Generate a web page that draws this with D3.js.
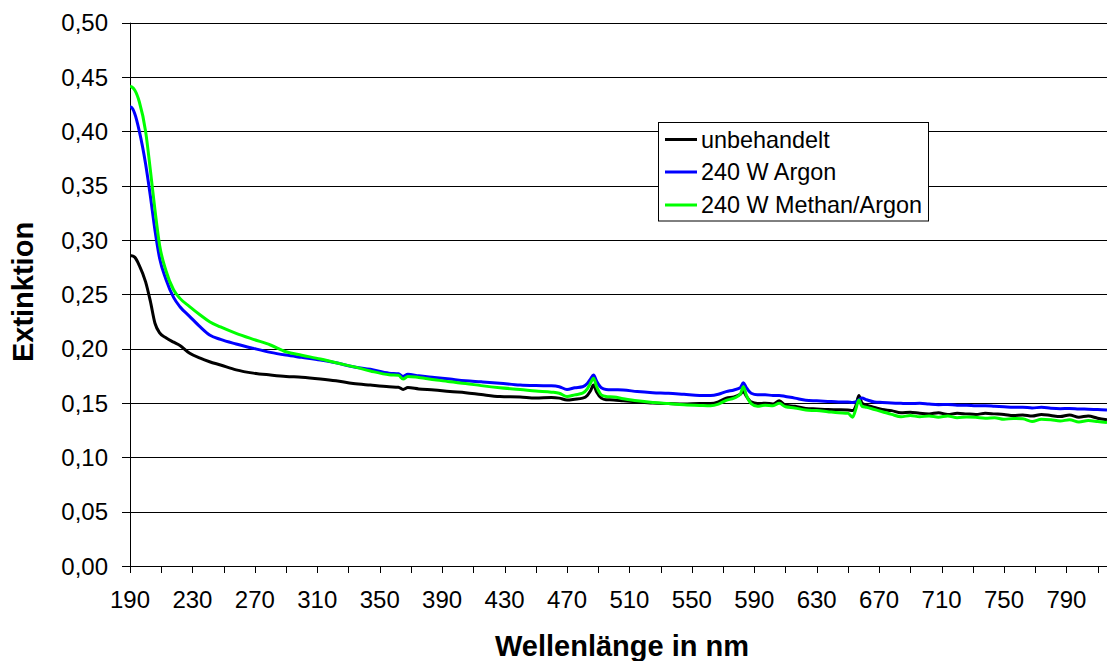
<!DOCTYPE html>
<html>
<head>
<meta charset="utf-8">
<script src="https://cdn.jsdelivr.net/npm/d3@7"></script>
<style>
  html, body { margin: 0; padding: 0; background: #fff; }
  svg { display: block; font-family: Arial, "Liberation Sans", sans-serif; }
</style>
</head>
<body>
<svg id="chart" width="1107" height="661"></svg>
<script>
// ---- data ----
const wavelengths = [190,191,193,196,200,203,206,209,213,218,222,228,235,241,248,258,269,280,290,300,312,322,333,344,356,362,365,368,375,385,395,405,415,427,440,450,460,465,470,475,480,483,485,487,489,492,495,500,506,515,525,535,545,555,562,567,572,577,581,583,585,588,592,597,602,606,610,616,623,630,637,644,650,653,655,657,659,662,667,672,678,684,690,696,702,708,714,720,726,732,738,744,750,756,762,768,774,780,786,792,798,804,810,816];

const unbehandelt = [0.2856,0.2856,0.2842,0.2765,0.2615,0.2440,0.2234,0.2145,0.2100,0.2060,0.2030,0.1960,0.1912,0.1880,0.1850,0.1805,0.1775,0.1758,0.1745,0.1738,0.1722,0.1705,0.1680,0.1665,0.1650,0.1645,0.1625,0.1642,0.1630,0.1620,0.1605,0.1595,0.1578,0.1560,0.1555,0.1545,0.1550,0.1545,0.1528,0.1535,0.1545,0.1570,0.1610,0.1665,0.1600,0.1545,0.1530,0.1528,0.1520,0.1510,0.1500,0.1495,0.1490,0.1496,0.1495,0.1510,0.1545,0.1555,0.1580,0.1605,0.1560,0.1510,0.1495,0.1498,0.1492,0.1520,0.1480,0.1470,0.1450,0.1445,0.1440,0.1438,0.1435,0.1430,0.1470,0.1570,0.1500,0.1480,0.1460,0.1440,0.1430,0.1410,0.1415,0.1405,0.1400,0.1410,0.1395,0.1405,0.1400,0.1395,0.1405,0.1400,0.1395,0.1385,0.1390,0.1380,0.1395,0.1385,0.1375,0.1390,0.1370,0.1380,0.1360,0.1345];

const argon = [0.4226,0.4220,0.4165,0.4000,0.3700,0.3410,0.3090,0.2830,0.2640,0.2470,0.2386,0.2300,0.2200,0.2126,0.2085,0.2043,0.2003,0.1966,0.1941,0.1920,0.1895,0.1870,0.1834,0.1810,0.1775,0.1770,0.1745,0.1765,0.1750,0.1735,0.1720,0.1705,0.1695,0.1682,0.1665,0.1660,0.1658,0.1650,0.1625,0.1640,0.1650,0.1680,0.1720,0.1757,0.1700,0.1640,0.1625,0.1622,0.1620,0.1605,0.1595,0.1590,0.1580,0.1570,0.1568,0.1580,0.1605,0.1620,0.1640,0.1686,0.1640,0.1590,0.1575,0.1575,0.1570,0.1570,0.1560,0.1545,0.1525,0.1520,0.1515,0.1510,0.1510,0.1505,0.1510,0.1530,0.1545,0.1530,0.1510,0.1505,0.1500,0.1497,0.1495,0.1497,0.1490,0.1485,0.1487,0.1480,0.1480,0.1475,0.1475,0.1470,0.1465,0.1460,0.1462,0.1455,0.1460,0.1452,0.1448,0.1450,0.1445,0.1443,0.1440,0.1435];

const methanArgon = [0.4416,0.4410,0.4380,0.4270,0.4000,0.3650,0.3276,0.2950,0.2720,0.2540,0.2463,0.2390,0.2310,0.2248,0.2200,0.2141,0.2086,0.2034,0.1972,0.1940,0.1905,0.1870,0.1835,0.1795,0.1760,0.1755,0.1720,0.1745,0.1735,0.1715,0.1695,0.1680,0.1660,0.1640,0.1625,0.1610,0.1600,0.1590,0.1560,0.1575,0.1590,0.1630,0.1680,0.1727,0.1650,0.1575,0.1560,0.1555,0.1540,0.1520,0.1505,0.1495,0.1485,0.1478,0.1474,0.1490,0.1525,0.1545,0.1580,0.1650,0.1570,0.1495,0.1470,0.1480,0.1475,0.1497,0.1465,0.1455,0.1435,0.1430,0.1420,0.1410,0.1405,0.1370,0.1440,0.1527,0.1470,0.1460,0.1440,0.1420,0.1395,0.1374,0.1385,0.1374,0.1380,0.1370,0.1380,0.1365,0.1372,0.1368,0.1360,0.1365,0.1350,0.1358,0.1355,0.1330,0.1350,0.1345,0.1335,0.1345,0.1325,0.1338,0.1330,0.1320];

const seriesNames = ["unbehandelt", "240 W Argon", "240 W Methan/Argon"];
const seriesColors = ["#000000", "#0000ff", "#00ff00"];
const yTickValues = [0,0.05,0.10,0.15,0.20,0.25,0.30,0.35,0.40,0.45,0.50];
const xTickValues = d3.range(190, 811, 20);
const xLabelValues = d3.range(190, 791, 40);
const xTitle = "Wellenlänge in nm";
const yTitle = "Extinktion";

(function () {
  const svg = d3.select("#chart");
  const mLeft = 130, mRight = 1107, mTop = 22.7, mBottom = 566;
  const x = d3.scaleLinear().domain([190, 816]).range([mLeft, mRight]);
  const y = d3.scaleLinear().domain([0, 0.5]).range([mBottom, mTop]);
  const fmt = v => d3.format(".2f")(v).replace(".", ",");

  // gridlines
  svg.append("g").selectAll("line").data(yTickValues.filter(v => v > 0)).join("line")
    .attr("x1", mLeft).attr("x2", mRight)
    .attr("y1", d => Math.round(y(d)) + 0.5).attr("y2", d => Math.round(y(d)) + 0.5)
    .attr("stroke", "#000").attr("stroke-width", 1);

  // y axis
  const yAxis = svg.append("g");
  yAxis.append("line").attr("x1", mLeft + 0.5).attr("x2", mLeft + 0.5)
    .attr("y1", mTop).attr("y2", mBottom).attr("stroke", "#000");
  yAxis.selectAll("line.tick").data(yTickValues).join("line").attr("class", "tick")
    .attr("x1", mLeft - 8).attr("x2", mLeft)
    .attr("y1", d => Math.round(y(d)) + 0.5).attr("y2", d => Math.round(y(d)) + 0.5)
    .attr("stroke", "#000");
  yAxis.selectAll("text").data(yTickValues).join("text")
    .attr("x", 108).attr("y", d => y(d) + 8.6)
    .attr("text-anchor", "end").attr("font-size", 24).attr("fill", "#000")
    .text(fmt);

  // x axis
  const xAxis = svg.append("g");
  xAxis.append("line").attr("x1", mLeft).attr("x2", mRight)
    .attr("y1", Math.round(mBottom) + 0.5).attr("y2", Math.round(mBottom) + 0.5).attr("stroke", "#000");
  xAxis.selectAll("line.tick").data(xTickValues).join("line").attr("class", "tick")
    .attr("x1", d => Math.round(x(d)) + 0.5).attr("x2", d => Math.round(x(d)) + 0.5)
    .attr("y1", mBottom).attr("y2", mBottom + 7).attr("stroke", "#000");
  xAxis.selectAll("text").data(xLabelValues).join("text")
    .attr("x", d => x(d)).attr("y", 608)
    .attr("text-anchor", "middle").attr("font-size", 24).attr("fill", "#000")
    .text(d => d);

  // axis titles
  svg.append("text").attr("x", 622).attr("y", 656)
    .attr("text-anchor", "middle").attr("font-size", 29).attr("font-weight", "bold")
    .text(xTitle);
  svg.append("text").attr("transform", "translate(33,292) rotate(-90)")
    .attr("text-anchor", "middle").attr("font-size", 29).attr("font-weight", "bold")
    .text(yTitle);

  // lines
  const seriesData = [unbehandelt, argon, methanArgon];
  const line = d3.line().x(d => x(d[0])).y(d => y(d[1])).curve(d3.curveMonotoneX);
  svg.append("defs").append("clipPath").attr("id", "clip")
    .append("rect").attr("x", mLeft).attr("y", 0).attr("width", mRight - mLeft).attr("height", mBottom);
  const lines = svg.append("g").attr("clip-path", "url(#clip)");
  seriesData.forEach((vals, i) => {
    lines.append("path")
      .datum(wavelengths.map((w, j) => [w, vals[j]]))
      .attr("fill", "none").attr("stroke", seriesColors[i])
      .attr("stroke-width", 3).attr("stroke-linejoin", "round")
      .attr("d", line);
  });

  // legend
  const lg = svg.append("g");
  lg.append("rect").attr("x", 658.5).attr("y", 122.5).attr("width", 270).attr("height", 98.5)
    .attr("fill", "#fff").attr("stroke", "#000").attr("stroke-width", 1);
  const rowY = [139.5, 172, 205];
  seriesNames.forEach((n, i) => {
    lg.append("line").attr("x1", 665).attr("x2", 697).attr("y1", rowY[i]).attr("y2", rowY[i])
      .attr("stroke", seriesColors[i]).attr("stroke-width", 3);
    lg.append("text").attr("x", 701).attr("y", rowY[i] + 8.3)
      .attr("font-size", 23.4).attr("fill", "#000").text(n);
  });
})();
</script>
</body>
</html>
